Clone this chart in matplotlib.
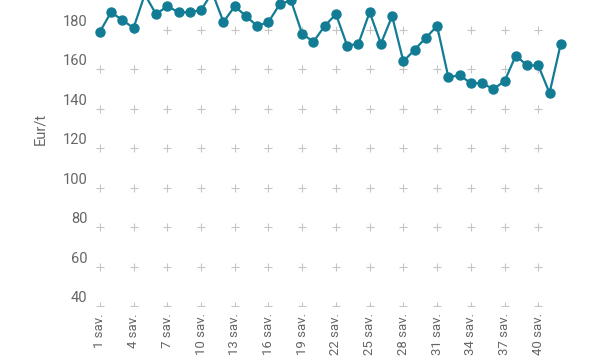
import matplotlib.pyplot as plt
import matplotlib.transforms as mtransforms
import numpy as np

plt.rcParams['font.family'] = ['Roboto', 'DejaVu Sans']

# weekly price, Eur/t
weeks = list(range(1, 43))
prices = [179, 189, 185, 181, 198, 188, 192, 189, 189, 190,
          199, 184, 192, 187, 182, 184, 193, 195, 178, 174,
          182, 188, 172, 173, 189, 173, 187, 164, 170, 176,
          182, 156, 157, 153, 153, 150, 154, 167, 162, 162,
          148, 173]

tick_weeks = list(range(1, 41, 3))
tick_labels = [f"{w} sav." for w in tick_weeks]
y_ticks = list(range(40, 221, 20))
# 200 and 220 fall above the cropped top edge
y_labels = [str(v) if v <= 180 else '' for v in y_ticks]

line_color = '#137c95'
text_color = '#666666'

fig = plt.figure(figsize=(6, 3.6), dpi=100)
# plot area runs past the top edge, the reference is cropped there
ax = fig.add_axes([0.157, 0.15, 0.787, 0.986])

# "+" markers at grid crossings instead of grid lines
gx, gy = np.meshgrid(tick_weeks, y_ticks)
ax.scatter(gx.ravel(), gy.ravel(), marker='+', s=28, color='#c4c4c4',
           linewidths=0.8, zorder=1)

ax.plot(weeks, prices, color=line_color, lw=1.6, marker='o', ms=6.5,
        mec=line_color, mfc=line_color, zorder=3, clip_on=False)

ax.set_xlim(0.5, 42.5)
ax.set_ylim(40, 220)
ax.set_xticks(tick_weeks)
ax.set_xticklabels(tick_labels, rotation=90, va='top', ha='center')
ax.set_yticks(y_ticks)
ax.set_yticklabels(y_labels)

for s in ax.spines.values():
    s.set_visible(False)
ax.tick_params(length=0, colors=text_color)
ax.tick_params(axis='x', pad=5, labelsize=9.5)
ax.tick_params(axis='y', pad=5, labelsize=10.5)

# y labels sit a little above their grid row
shift = mtransforms.ScaledTranslation(0, 4 / 100, fig.dpi_scale_trans)
for lab in ax.get_yticklabels():
    lab.set_verticalalignment('baseline')
    lab.set_transform(lab.get_transform() + shift)

ax.set_ylabel('Eur/t', color=text_color, fontsize=10.5)
ax.yaxis.set_label_coords(-0.10, 0.5)

fig.savefig('out.png', dpi=100)
